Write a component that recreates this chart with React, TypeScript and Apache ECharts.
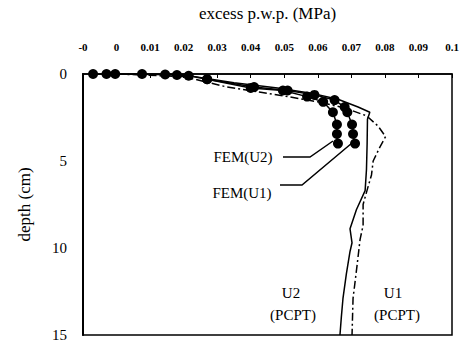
import React, { useEffect, useRef } from "react";
import * as echarts from "echarts";

const xTickLabels = ["-0", "0", "0.01", "0.02", "0.03", "0.04", "0.05", "0.06", "0.07", "0.08", "0.09", "0.1"];
const yTickLabels = ["0", "5", "10", "15"];

// [excess p.w.p. (MPa), depth (cm)]
const femU2: [number, number][] = [
  [-0.007, 0], [-0.003, 0], [-0.0004, 0], [0.0076, 0], [0.0145, 0.03], [0.018, 0.06],
  [0.0215, 0.1], [0.027, 0.3], [0.04, 0.8], [0.0496, 0.95], [0.0568, 1.3], [0.0616, 1.6],
  [0.0645, 2.2], [0.0657, 2.9], [0.0657, 3.45], [0.066, 4.0],
];
const femU1: [number, number][] = [
  [0.027, 0.3], [0.041, 0.75], [0.051, 0.95], [0.059, 1.2], [0.065, 1.5], [0.068, 1.9],
  [0.0688, 2.2], [0.0702, 2.9], [0.0705, 3.45], [0.0711, 4.0],
];
const pcptU2: [number, number][] = [
  [-0.001, 0], [0.02, 0.05], [0.035, 0.5], [0.048, 0.8], [0.058, 1.1], [0.066, 1.45],
  [0.072, 1.9], [0.0755, 2.2], [0.0748, 2.6], [0.0747, 4.0], [0.0745, 5.5], [0.0741, 6.7],
  [0.0715, 7.8], [0.0696, 8.9], [0.0702, 9.7], [0.0696, 10.2], [0.0685, 11.5],
  [0.0675, 12.9], [0.067, 14], [0.0666, 15],
];
const pcptU1: [number, number][] = [
  [0.0, 0], [0.02, 0.15], [0.033, 0.75], [0.043, 1.05], [0.051, 1.3], [0.06, 1.6],
  [0.068, 1.95], [0.0745, 2.4], [0.078, 3.0], [0.0802, 3.6], [0.0785, 4.2], [0.0765, 5.0],
  [0.076, 5.8], [0.0748, 6.6], [0.0735, 7.5], [0.0735, 8.7], [0.0726, 9.5],
  [0.0717, 11.0], [0.0705, 12.9], [0.0702, 15],
];

const SERIF = "Liberation Serif";

export default function App() {
  const ref = useRef<HTMLDivElement>(null);
  useEffect(() => {
    if (!ref.current) return;
    const chart = echarts.init(ref.current, undefined, { renderer: "svg" });
    const markerSeries = (name: string, data: [number, number][]) => ({
      name,
      type: "line",
      data,
      symbol: "circle",
      symbolSize: 10,
      itemStyle: { color: "#000" },
      lineStyle: { color: "#000", width: 1.5 },
      z: 3,
    });
    const txt = (text: string, x: number, y: number) => ({
      type: "text",
      x,
      y,
      style: { text, fontFamily: SERIF, fontSize: 15, fill: "#000", align: "center", verticalAlign: "middle" },
    });
    chart.setOption({
      animation: false,
      backgroundColor: "#fff",
      grid: {
        left: 83, right: 11, top: 70, bottom: 10,
        show: true, borderColor: "#000", borderWidth: 1.5, backgroundColor: "transparent",
      },
      xAxis: {
        type: "value",
        position: "top",
        min: -0.01,
        max: 0.1,
        interval: 0.01,
        name: "excess p.w.p. (MPa)",
        nameLocation: "middle",
        nameGap: 52,
        nameTextStyle: { fontFamily: SERIF, fontSize: 17, color: "#000" },
        axisLine: { onZero: false, lineStyle: { color: "#000", width: 1.5 } },
        axisTick: { inside: true, length: 4, lineStyle: { color: "#000" } },
        splitLine: { show: false },
        axisLabel: {
          margin: 22,
          fontFamily: SERIF,
          fontSize: 11,
          fontWeight: "bold",
          color: "#000",
          formatter: (v: number) => xTickLabels[Math.round(v * 100) + 1] ?? "",
        },
      },
      yAxis: {
        type: "value",
        inverse: true,
        min: 0,
        max: 15,
        interval: 5,
        name: "depth (cm)",
        nameLocation: "middle",
        nameGap: 50,
        nameRotate: 90,
        nameTextStyle: { fontFamily: SERIF, fontSize: 17, color: "#000" },
        axisLine: { onZero: false, lineStyle: { color: "#000", width: 2 } },
        axisTick: { show: false },
        splitLine: { show: false },
        axisLabel: {
          margin: 16,
          fontFamily: SERIF,
          fontSize: 15,
          color: "#000",
          formatter: (v: number) => yTickLabels[Math.round(v / 5)] ?? "",
        },
      },
      series: [
        {
          name: "U2 (PCPT)",
          type: "line",
          data: pcptU2,
          symbol: "none",
          lineStyle: { color: "#000", width: 1.5 },
        },
        {
          name: "U1 (PCPT)",
          type: "line",
          data: pcptU1,
          symbol: "none",
          lineStyle: { color: "#000", width: 1.5, type: [8, 3, 2, 3] },
        },
        markerSeries("FEM(U2)", femU2),
        markerSeries("FEM(U1)", femU1),
      ],
      graphic: [
        txt("FEM(U2)", 243, 157),
        txt("FEM(U1)", 242, 193),
        { type: "polyline", shape: { points: [[283, 157], [310, 157], [333, 141]] }, style: { stroke: "#000", lineWidth: 1.5, fill: "none" } },
        { type: "polyline", shape: { points: [[280, 185], [302, 185], [352, 143]] }, style: { stroke: "#000", lineWidth: 1.5, fill: "none" } },
        txt("U2", 291, 293),
        txt("(PCPT)", 293, 315),
        txt("U1", 393, 293),
        txt("(PCPT)", 397, 315),
      ],
    });
    return () => chart.dispose();
  }, []);
  return <div ref={ref} style={{ position: "fixed", left: 0, top: 0, width: 463, height: 345 }} />;
}
